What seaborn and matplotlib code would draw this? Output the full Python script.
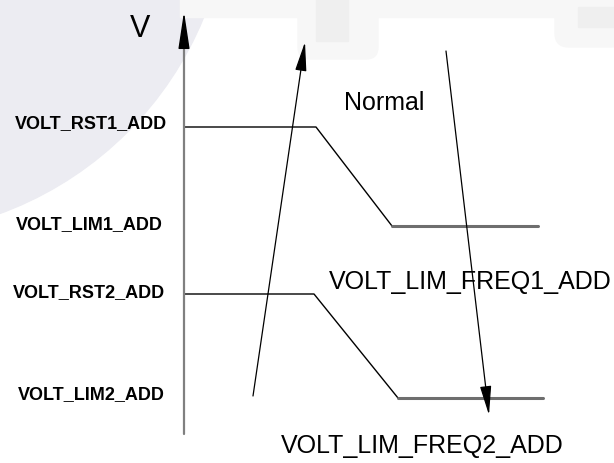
import numpy as np
import pandas as pd
import seaborn as sns
import matplotlib.pyplot as plt
from matplotlib.patches import Circle, Rectangle, FancyBboxPatch

# Datos del diagrama (coordenadas en la hoja, y hacia abajo)
curva1_x = [185, 316, 392, 538]
curva1_y = [128, 128, 227, 227]
curva2_x = [185, 314, 398, 543]
curva2_y = [295, 295, 399, 399]

niveles = ['VOLT_RST1_ADD', 'VOLT_LIM1_ADD', 'VOLT_RST2_ADD', 'VOLT_LIM2_ADD']
niveles_y = [124, 225, 293, 395]
niveles_x = [91, 89, 88.5, 91]

# flechas: (inicio, punta)
eje_v = [(184, 435), (184, 10)]
flecha_sube = [(253, 397), (305, 43)]
flecha_baja = [(446, 52), (489, 416)]

sns.set_theme(style='white')
plt.rcParams['font.family'] = ['Liberation Sans', 'DejaVu Sans']
plt.rcParams['text.color'] = 'black'

fig = plt.figure(figsize=(6.14, 4.64), dpi=100)
ax = fig.add_axes([0, 0, 1, 1])
ax.set_xlim(0, 614)
ax.set_ylim(464, 0)
ax.axis('off')

# marca de agua tenue
ax.add_patch(Circle((-121, -115), 351, color='#ececf2', zorder=0))
ax.add_patch(Rectangle((180, 0), 434, 18, color='#f7f7f7', zorder=0))
ax.add_patch(FancyBboxPatch((298, 0), 80, 60, boxstyle='round,pad=0,rounding_size=12',
                            color='#f7f7f7', zorder=0))
ax.add_patch(Rectangle((316, 0), 32, 42, color='#efefef', zorder=0))
ax.add_patch(FancyBboxPatch((555, 0), 70, 48, boxstyle='round,pad=0,rounding_size=14',
                            color='#f7f7f7', zorder=0))
ax.add_patch(Rectangle((578, 8), 40, 20, color='#efefef', zorder=0))

# curvas de tension
for cx, cy in [(curva1_x, curva1_y), (curva2_x, curva2_y)]:
    df = pd.DataFrame({'x': cx, 'y': cy})
    sns.lineplot(data=df, x='x', y='y', sort=False, estimator=None,
                 color='black', lw=1, ax=ax, legend=False)
    sns.lineplot(data=df.iloc[2:], x='x', y='y', sort=False, estimator=None,
                 color='#6e6e6e', lw=2.2, ax=ax, legend=False)

# eje vertical
ax.plot([eje_v[0][0], eje_v[1][0]], [eje_v[0][1], eje_v[1][1] + 30], color='#808080', lw=1.6)
ax.annotate('', xy=eje_v[1], xytext=(eje_v[1][0], eje_v[1][1] + 34),
            arrowprops=dict(arrowstyle='-|>,head_length=2.3,head_width=0.35',
                            color='black', mutation_scale=10, lw=1))

for ini, fin in [flecha_sube, flecha_baja]:
    ax.annotate('', xy=fin, xytext=ini,
                arrowprops=dict(arrowstyle='-|>,head_length=1.8,head_width=0.35',
                                color='black', mutation_scale=10, lw=0.9,
                                shrinkA=0, shrinkB=0))

# textos
ax.text(140, 29, 'V', fontsize=22, ha='center', va='center')
ax.text(384, 103, 'Normal', fontsize=18, ha='center', va='center')
ax.text(470, 282, 'VOLT_LIM_FREQ1_ADD', fontsize=18, ha='center', va='center')
ax.text(422, 446, 'VOLT_LIM_FREQ2_ADD', fontsize=18, ha='center', va='center')

for nombre, x, y in zip(niveles, niveles_x, niveles_y):
    ax.text(x, y, nombre, fontsize=13, fontweight='bold', ha='center', va='center')

plt.savefig('out.png', dpi=100)
